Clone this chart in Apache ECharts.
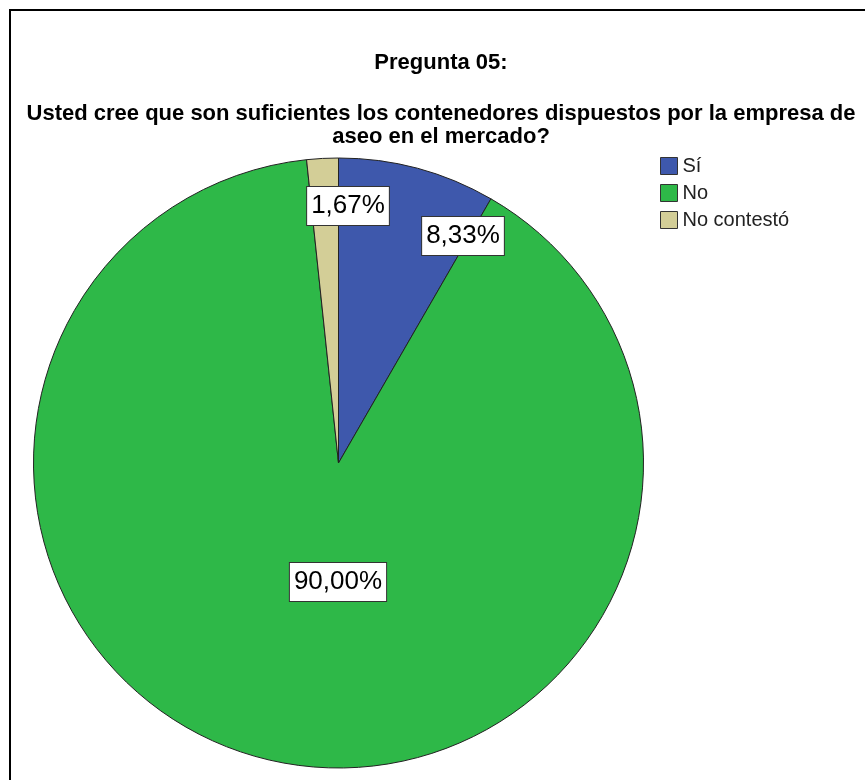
<!DOCTYPE html>
<html>
<head>
<meta charset="utf-8">
<script src="https://cdn.jsdelivr.net/npm/echarts@6/dist/echarts.min.js"></script>
<style>
  html, body { margin: 0; padding: 0; background: #fff; }
  #chart { width: 865px; height: 780px; }
</style>
</head>
<body>
<div id="chart"></div>
<script>
// Pregunta 05 – answer shares (percent of respondents)
const categories = ['Sí', 'No', 'No contestó'];
const percentages = [8.33, 90.00, 1.67];
const sliceColors = ['#3E58AC', '#2EB848', '#D3CE97'];

const titleText = 'Pregunta 05:';
const questionText = 'Usted cree que son suficientes los contenedores dispuestos por la empresa de\naseo en el mercado?';

// Pie geometry and label anchors (offsets from the pie centre, px)
const PIE_CENTER = [338.5, 463];
const PIE_RADIUS = 305;
const LABEL_OFFSETS = [[124.5, -227], [-0.5, 119], [9.5, -257]];

const FONT = '"Liberation Sans", Arial, sans-serif';

const chart = echarts.init(document.getElementById('chart'), null, { renderer: 'canvas' });

const formatPct = v => v.toFixed(2).replace('.', ',') + '%';

chart.setOption({
  backgroundColor: '#ffffff',
  animation: false,
  title: [
    {
      text: titleText,
      left: 441, top: 51.5, textAlign: 'center', padding: 0,
      textStyle: { fontFamily: FONT, fontSize: 22, fontWeight: 'bold', color: '#000', lineHeight: 22 }
    },
    {
      text: questionText,
      left: 441, top: 102, textAlign: 'center', padding: 0,
      textStyle: { fontFamily: FONT, fontSize: 22, fontWeight: 'bold', color: '#000', lineHeight: 23 }
    }
  ],
  legend: {
    orient: 'vertical',
    left: 660, top: 156,
    padding: 0,
    itemWidth: 17, itemHeight: 17, itemGap: 7,
    icon: 'rect',
    selectedMode: false,
    itemStyle: { borderColor: '#333', borderWidth: 1 },
    textStyle: { fontFamily: FONT, fontSize: 20, color: '#222' },
    data: categories
  },
  graphic: [{
    type: 'rect',
    silent: true,
    shape: { x: 10, y: 10, width: 900, height: 800 },
    style: { fill: 'none', stroke: '#000', lineWidth: 2 }
  }],
  series: [{
    type: 'pie',
    center: PIE_CENTER,
    radius: PIE_RADIUS,
    startAngle: 90,
    clockwise: true,
    avoidLabelOverlap: false,
    emphasis: { disabled: true },
    itemStyle: { borderColor: '#222', borderWidth: 1 },
    label: {
      show: true,
      position: 'inside',
      formatter: p => formatPct(p.value),
      fontFamily: FONT,
      fontSize: 26,
      color: '#000',
      backgroundColor: '#fff',
      borderColor: '#333',
      borderWidth: 1,
      padding: [6, 4, 6, 4]
    },
    labelLine: { show: false },
    labelLayout: params => {
      const off = LABEL_OFFSETS[params.dataIndex];
      return { x: PIE_CENTER[0] + off[0], y: PIE_CENTER[1] + off[1], align: 'center', verticalAlign: 'middle' };
    },
    data: categories.map((name, i) => ({
      name,
      value: percentages[i],
      itemStyle: { color: sliceColors[i] }
    }))
  }]
});
</script>
</body>
</html>
